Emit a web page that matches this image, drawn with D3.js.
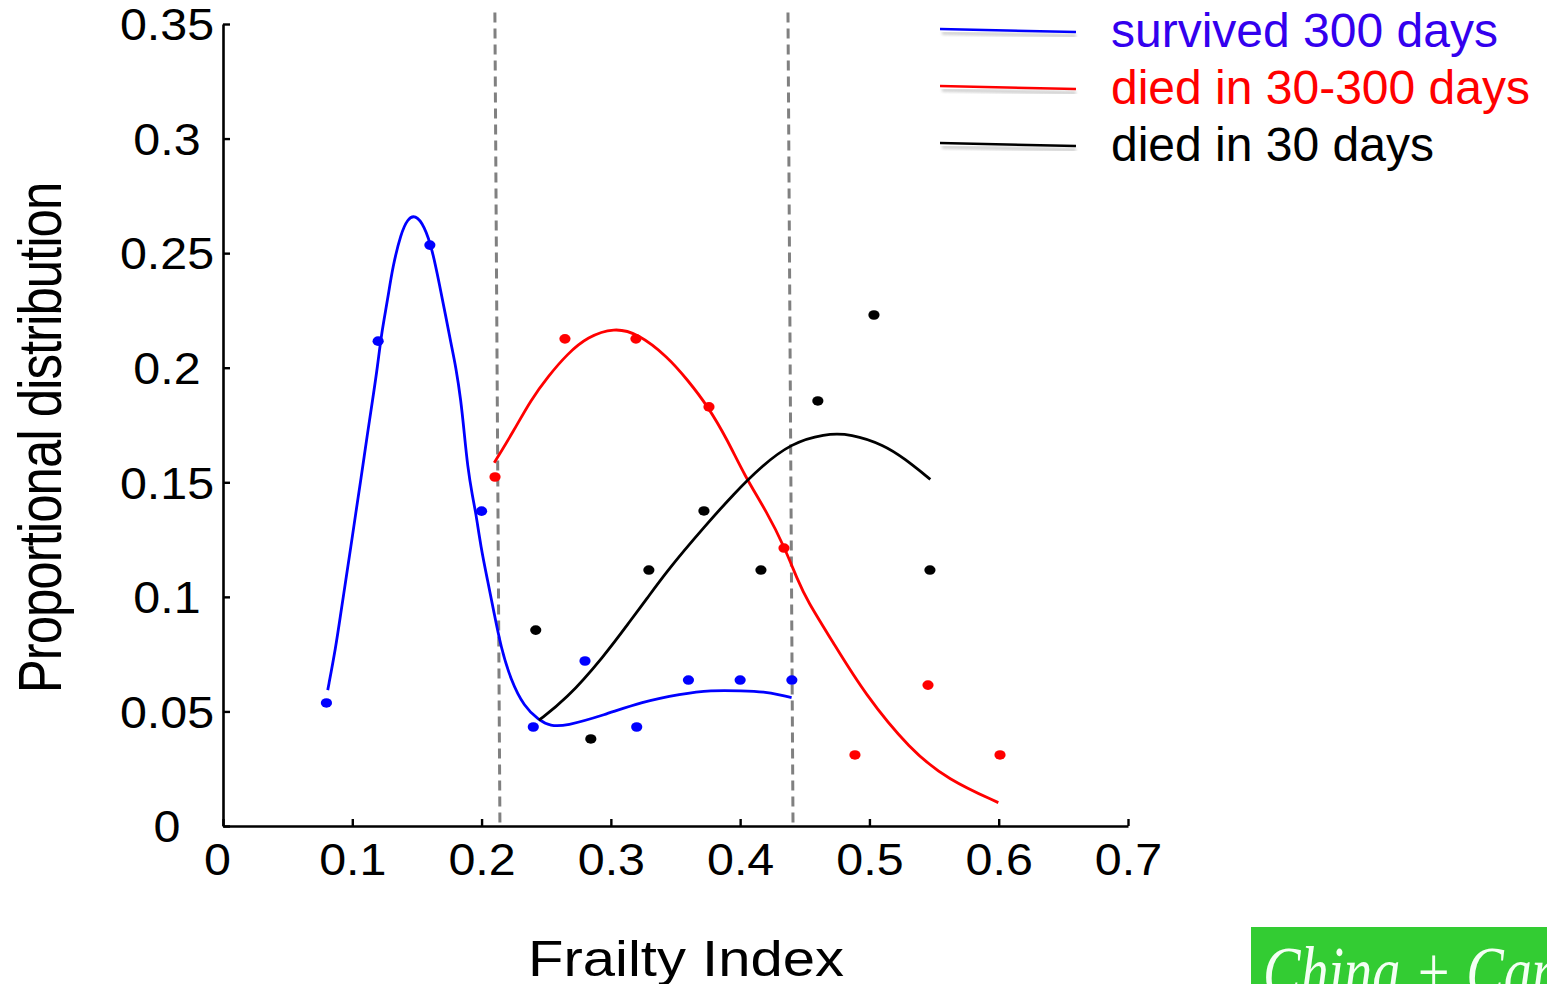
<!DOCTYPE html>
<html>
<head>
<meta charset="utf-8">
<script src="https://cdn.jsdelivr.net/npm/d3@7"></script>
<style>
  html, body { margin: 0; padding: 0; background: #fff; overflow: hidden; }
  svg { display: block; }
  text { font-family: "Liberation Sans", Arial, sans-serif; }
  text.badge { font-family: "Liberation Serif", "DejaVu Serif", serif; font-style: italic; }
</style>
</head>
<body>
<svg id="chart" width="1547" height="984"></svg>
<script>
// Frailty index bins (x) and observed proportions (y) per outcome group
const survivedX = [0.08, 0.12, 0.16, 0.20, 0.24, 0.28, 0.32, 0.36, 0.40, 0.44];
const survivedY = [0.0537, 0.2116, 0.2535, 0.1374, 0.0432, 0.0720, 0.0432, 0.0637, 0.0637, 0.0637];

const diedLateX = [0.2104, 0.2645, 0.3194, 0.3759, 0.4339, 0.4888, 0.5453, 0.6010];
const diedLateY = [0.1523, 0.2126, 0.2126, 0.1829, 0.1213, 0.0310, 0.0615, 0.0310];

const diedEarlyX = [0.2419, 0.2845, 0.3294, 0.3720, 0.4161, 0.4601, 0.5035, 0.5468];
const diedEarlyY = [0.0855, 0.0380, 0.1117, 0.1375, 0.1117, 0.1855, 0.2230, 0.1117];

// Smoothed fitted curves
const survivedFitX = [0.0810, 0.0873, 0.0911, 0.0950, 0.0989, 0.1027, 0.1066, 0.1118, 0.1157, 0.1195,
  0.1226, 0.1273, 0.1312, 0.1377, 0.1428, 0.1487, 0.1557, 0.1620, 0.1672, 0.1724, 0.1763, 0.1801,
  0.1840, 0.1866, 0.1892, 0.1930, 0.1956, 0.1994, 0.2046, 0.2097, 0.2149, 0.2226, 0.2329, 0.2443,
  0.2532, 0.2650, 0.2945, 0.3243, 0.3539, 0.3773, 0.4013, 0.4190, 0.4308, 0.4398];
const survivedFitY = [0.0593, 0.0782, 0.0929, 0.1073, 0.1219, 0.1366, 0.1510, 0.1715, 0.1859, 0.2004,
  0.2151, 0.2295, 0.2440, 0.2587, 0.2650, 0.2668, 0.2620, 0.2513, 0.2369, 0.2222, 0.2107, 0.2004,
  0.1859, 0.1715, 0.1568, 0.1437, 0.1366, 0.1219, 0.1073, 0.0929, 0.0782, 0.0637, 0.0521, 0.0462,
  0.0436, 0.0436, 0.0484, 0.0542, 0.0576, 0.0593, 0.0590, 0.0586, 0.0572, 0.0560];

const diedLateFitX = [0.2098, 0.2252, 0.2381, 0.2511, 0.2666, 0.2820, 0.3026, 0.3207, 0.3439, 0.3594,
  0.3749, 0.3903, 0.4032, 0.4213, 0.4341, 0.4445, 0.4516, 0.4723, 0.4960, 0.5315, 0.5611, 0.5997];
const diedLateFitY = [0.1585, 0.1728, 0.1859, 0.1960, 0.2062, 0.2135, 0.2175, 0.2150, 0.2048, 0.1946,
  0.1833, 0.1684, 0.1531, 0.1364, 0.1219, 0.1073, 0.0986, 0.0797, 0.0579, 0.0332, 0.0201, 0.0102];

const diedEarlyFitX = [0.2443, 0.2650, 0.2945, 0.3155, 0.3271, 0.3439, 0.3723, 0.3955, 0.4161, 0.4393,
  0.4651, 0.4857, 0.5115, 0.5270, 0.5471];
const diedEarlyFitY = [0.0462, 0.0550, 0.0739, 0.0899, 0.0986, 0.1117, 0.1306, 0.1452, 0.1568, 0.1670,
  0.1712, 0.1712, 0.1662, 0.1604, 0.1513];

// Cut-off lines (top and bottom x, slightly tilted)
const cutoffTopX = [0.2103, 0.4370];
const cutoffBottomX = [0.2142, 0.4409];

const xTicks = [0, 0.1, 0.2, 0.3, 0.4, 0.5, 0.6, 0.7];
const xTickLabels = ["0", "0.1", "0.2", "0.3", "0.4", "0.5", "0.6", "0.7"];
const yTicks = [0, 0.05, 0.1, 0.15, 0.2, 0.25, 0.3, 0.35];
const yTickLabels = ["0", "0.05", "0.1", "0.15", "0.2", "0.25", "0.3", "0.35"];

const legendLabels = ["survived 300 days", "died in 30-300 days", "died in 30 days"];
const lineColors = ["#0000ff", "#ff0000", "#000000"];
const legendTextColors = ["#3300ee", "#ff0000", "#000000"];

const svg = d3.select("#chart");

const x = d3.scaleLinear().domain([0, 0.7]).range([223, 1128]);
const y = d3.scaleLinear().domain([0, 0.35]).range([826, 24]);

const defs = svg.append("defs");
defs.append("filter").attr("id", "soft")
  .append("feGaussianBlur").attr("stdDeviation", 1.6);

// Axes
const xAxis = d3.axisBottom(x).tickValues(xTicks)
  .tickFormat((d, i) => xTickLabels[i]).tickSizeInner(-7).tickSizeOuter(0).tickPadding(18);
const yAxis = d3.axisLeft(y).tickValues(yTicks)
  .tickFormat((d, i) => yTickLabels[i]).tickSizeInner(-7).tickSizeOuter(0).tickPadding(0);

const gx = svg.append("g").attr("transform", `translate(0,${y(0)})`).call(xAxis);
const gy = svg.append("g").attr("transform", `translate(${x(0)},0)`).call(yAxis);

[gx, gy].forEach(g => {
  g.select(".domain").attr("stroke", "#000").attr("stroke-width", 2.6);
  g.selectAll(".tick line").attr("stroke", "#000").attr("stroke-width", 2.4);
  g.selectAll(".tick text").attr("fill", "#000").attr("font-size", 44).attr("text-anchor", "middle");
});
// Slightly widened tick labels
gx.selectAll(".tick text")
  .attr("dy", "0.71em")
  .attr("transform", (d, i) => `translate(${i === 0 ? -6 : 0},0) scale(1.1,1)`);
gy.selectAll(".tick text")
  .attr("x", 0).attr("dy", "0.36em")
  .attr("transform", `translate(${167 - x(0)},0) scale(1.1,1)`);

// Cut-off dashed lines
svg.append("g").selectAll("line").data(cutoffTopX).join("line")
  .attr("x1", d => x(d)).attr("y1", y(0.355))
  .attr("x2", (d, i) => x(cutoffBottomX[i])).attr("y2", y(0))
  .attr("stroke", "#808080").attr("stroke-width", 3).attr("stroke-dasharray", "10,6");

// Fitted curves
const line = d3.line().x(d => x(d[0])).y(d => y(d[1])).curve(d3.curveBasis);
const fits = [
  d3.zip(survivedFitX, survivedFitY),
  d3.zip(diedLateFitX, diedLateFitY),
  d3.zip(diedEarlyFitX, diedEarlyFitY)
];
svg.append("g").selectAll("path").data(fits).join("path")
  .attr("d", line).attr("fill", "none")
  .attr("stroke", (d, i) => lineColors[i]).attr("stroke-width", 2.8)
  .attr("stroke-linejoin", "round");

// Observed points
const groups = [
  d3.zip(survivedX, survivedY),
  d3.zip(diedLateX, diedLateY),
  d3.zip(diedEarlyX, diedEarlyY)
];
groups.forEach((pts, i) => {
  svg.append("g").selectAll("ellipse").data(pts).join("ellipse")
    .attr("cx", d => x(d[0])).attr("cy", d => y(d[1]))
    .attr("rx", 5.6).attr("ry", 4.8).attr("fill", lineColors[i]);
});

// Legend
const legend = svg.append("g");
legendLabels.forEach((label, i) => {
  const yy = 30 + i * 57;
  legend.append("line").attr("x1", 942).attr("y1", yy + 3).attr("x2", 1076).attr("y2", yy + 6)
    .attr("stroke", "#999").attr("stroke-width", 3).attr("opacity", 0.55).attr("filter", "url(#soft)");
  legend.append("line").attr("x1", 940).attr("y1", yy - 1).attr("x2", 1076).attr("y2", yy + 2)
    .attr("stroke", lineColors[i]).attr("stroke-width", 2.4);
  legend.append("text").attr("x", 1111).attr("y", yy + 17)
    .attr("font-size", 48).attr("fill", legendTextColors[i]).text(label);
});

// Axis titles
svg.append("text").attr("transform", "translate(686,976) scale(1.16,1)")
  .attr("text-anchor", "middle").attr("font-size", 50).attr("fill", "#000").text("Frailty Index");

svg.append("text").attr("transform", "translate(61,438) rotate(-90) scale(1,1.18)")
  .attr("text-anchor", "middle").attr("font-size", 51).attr("fill", "#000")
  .attr("letter-spacing", -1).text("Proportional distribution");

// Corner badge
svg.append("rect").attr("x", 1251).attr("y", 927).attr("width", 300).attr("height", 60).attr("fill", "#33cc33");
svg.append("text").attr("class", "badge").attr("transform", "translate(1263,996) scale(0.78,1)")
  .attr("font-size", 72).attr("fill", "#f4fff4").text("China + Canada");
</script>
</body>
</html>
